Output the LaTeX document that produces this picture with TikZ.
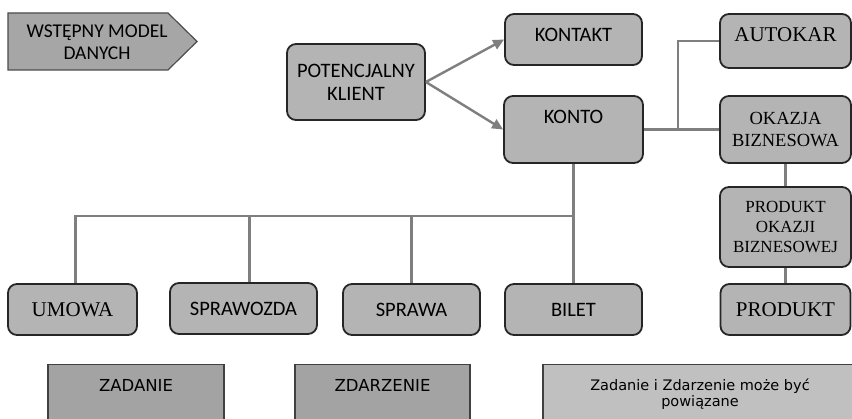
\documentclass[tikz,border=0pt]{standalone}
\usepackage{fontspec}
\setmainfont{Liberation Serif}
\newfontfamily\calfont{Carlito}
\newfontfamily\dvfont{DejaVu Sans}
\usetikzlibrary{arrows.meta}

\definecolor{boxfill}{HTML}{B4B4B4}
\definecolor{headfill}{HTML}{A6A6A6}
\definecolor{taskfill}{HTML}{A3A3A3}
\definecolor{notefill}{HTML}{C0C0C0}
\definecolor{linkgray}{HTML}{7F7F7F}

\tikzset{
  entity/.style={draw=black!85, line width=1.8pt, fill=boxfill, rounded corners=9pt,
                 align=center, inner sep=0pt},
  calent/.style={entity, font=\calfont\fontsize{20.5}{23}\selectfont},
  serent/.style={entity, font=\fontsize{21}{23}\selectfont},
  lift/.style={text depth=#1},
  link/.style={draw=linkgray, line width=2.4pt},
  arr/.style={link, -{Triangle[length=11pt,width=10pt]}},
  lowbox/.style={draw=black!75, line width=1.2pt, anchor=north, minimum height=70pt},
  lowtext/.style={font=\dvfont\fontsize{16.5}{18}\selectfont, align=center}
}

\begin{document}
\begin{tikzpicture}[x=1pt,y=-1pt]
	\clip (0,0) rectangle (852,419);
	\fill[white] (0,0) rectangle (852,419);		% background

	% header arrow
	\filldraw[fill=headfill, draw=black!70, line width=1.2pt]
	    (8,13) -- (168,13) -- (197,41.5) -- (168,70) -- (8,70) -- cycle;
	\node[align=center, font=\calfont\fontsize{19.5}{22}\selectfont] (head) at (97,42.5)
	      {WSTĘPNY MODEL\\DANYCH};

	% upper entities
	\node[calent, minimum width=138pt, minimum height=76pt] (klient) at (356,82) {POTENCJALNY\\KLIENT};
	\node[calent, lift=9pt, minimum width=137pt, minimum height=51pt] (kontakt) at (573.5,39.5) {KONTAKT};
	\node[calent, lift=26pt, minimum width=139pt, minimum height=67pt] (konto) at (573.5,129.5) {KONTO};
	\node[serent, lift=12pt, minimum width=131pt, minimum height=54pt] (autokar) at (785.5,41) {AUTOKAR};
	\node[entity, font=\fontsize{18.5}{22}\selectfont, minimum width=131pt, minimum height=67pt] (okazja) at (785.5,129.5) {OKAZJA\\BIZNESOWA};
	\node[entity, font=\fontsize{17}{20}\selectfont, minimum width=131pt, minimum height=80pt] (prodokazji) at (785.5,227) {PRODUKT\\OKAZJI\\BIZNESOWEJ};

	% lower entities
	\node[serent, minimum width=129pt, minimum height=51pt] (umowa) at (72.5,309.5) {UMOWA};
	\node[calent, minimum width=147pt, minimum height=51pt] (sprawozda) at (243.5,308.5) {SPRAWOZDA};
	\node[calent, minimum width=137pt, minimum height=51pt] (sprawa) at (411.5,309.5) {SPRAWA};
	\node[calent, minimum width=137pt, minimum height=51pt] (bilet) at (573.5,309.5) {BILET};
	\node[serent, minimum width=130pt, minimum height=51pt] (produkt) at (785.5,309.5) {PRODUKT};

	% connectors
	\draw[arr] (klient.east) -- (kontakt.west);
	\draw[arr] (klient.east) -- (konto.west);
	\draw[link] (konto.east) -- (okazja.west);
	\coordinate (split) at (678,129.5);
	\draw[link] (split) |- (autokar.west);
	\draw[link] (okazja.south) -- (prodokazji.north);
	\draw[link] (prodokazji.south) -- (produkt.north);
	\coordinate (bus) at (573.5,216);
	\draw[link] (konto.south) -- (bilet.north);
	\draw[link] ([xshift=3pt]umowa.north) |- (bus);
	\draw[link] ([xshift=6pt]sprawozda.north) -- ([xshift=6pt]sprawozda.north |- bus);
	\draw[link] (sprawa.north) -- (sprawa.north |- bus);

	% bottom row
	\node[lowbox, fill=taskfill, minimum width=176pt] (zadanie) at (136,364) {};
	\node[lowtext, anchor=base] (zadanietxt) at (136,392) {ZADANIE};
	\node[lowbox, fill=taskfill, minimum width=175pt] (zdarzenie) at (382.5,364) {};
	\node[lowtext, anchor=base] (zdarzenietxt) at (382.5,392) {ZDARZENIE};
	\node[lowbox, fill=notefill, minimum width=312pt] (note) at (699,364) {};
	\node[lowtext, anchor=north, font=\dvfont\fontsize{14.5}{16}\selectfont] (notetxt) at (700,375)
	      {Zadanie i Zdarzenie może być\\powiązane};
\end{tikzpicture}
\end{document}
